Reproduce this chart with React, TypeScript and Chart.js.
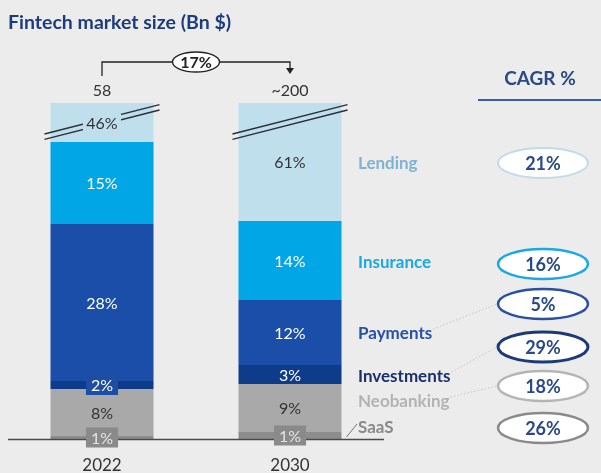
import React, { useEffect, useRef } from "react";
import { Chart, registerables } from "chart.js";

Chart.register(...registerables);

// ---- data ----
const years = ["2022", "2030"];
const marketSize = ["58", "~200"];
const overallCagr = "17%";
const segments = ["SaaS", "Neobanking", "Investments", "Payments", "Insurance", "Lending"];
// share of market (%) per segment, bottom to top
const share2022 = [1, 8, 2, 28, 15, 46];
const share2030 = [1, 9, 3, 12, 14, 61];
// drawn (visual, top segment truncated) height of each segment
const drawn2022 = [3, 47, 8, 157, 82, 39];
const drawn2030 = [7, 48, 19, 65, 79, 118];
// CAGR per segment 2022-2030
const segmentCagr = ["26%", "18%", "29%", "5%", "16%", "21%"];

const segColors = ["#8d8d8d", "#a9a9a9", "#0f3c8a", "#1b4ea8", "#00a6e6", "#c0dfec"];
const labelText = ["#e4e4e4", "#333333", "#ffffff", "#ffffff", "#ffffff", "#333333"];
const nameColors = ["#8a8a8a", "#b3b3b3", "#1b2f6b", "#2750a8", "#1aa9e0", "#7fb3d3"];
const ringColors = ["#8a8a8a", "#b5b5b5", "#1d3a78", "#2a4fa3", "#1aa9e0", "#c3dbe8"];
const ringWidths = [2.5, 2.5, 3, 2.5, 2.5, 2];

const FONT = "Lato, 'Noto Sans', sans-serif";

const overlay = {
  id: "overlay",
  beforeDraw(chart: any) {
    const { ctx, width, height } = chart;
    ctx.save();
    ctx.fillStyle = "#ececec";
    ctx.fillRect(0, 0, width, height);
    ctx.restore();
  },
  afterDatasetsDraw(chart: any) {
    const { ctx, chartArea } = chart;
    const yScale = chart.scales.y;
    ctx.save();

    // baseline
    ctx.strokeStyle = "#4a4a4a";
    ctx.lineWidth = 1.5;
    ctx.beginPath();
    ctx.moveTo(chartArea.left, chartArea.bottom + 0.5);
    ctx.lineTo(chartArea.right, chartArea.bottom + 0.5);
    ctx.stroke();

    const bars0 = chart.getDatasetMeta(0).data;
    const shares = [share2022, share2030];

    // segment labels
    segments.forEach((_, i) => {
      const meta = chart.getDatasetMeta(i);
      meta.data.forEach((el: any, j: number) => {
        const cy = (el.y + el.base) / 2;
        const txt = shares[j][i] + "%";
        ctx.font = `16px ${FONT}`;
        const tw = ctx.measureText(txt).width;
        const segH = Math.abs(el.base - el.y);
        if (segH < 14) {
          ctx.fillStyle = i === 2 ? "#1d4ea3" : "#8a8a8a";
          ctx.fillRect(el.x - tw / 2 - 5, cy - 10, tw + 10, 20);
        }
        ctx.fillStyle = labelText[i];
        ctx.textAlign = "center";
        ctx.textBaseline = "middle";
        ctx.fillText(txt, el.x, cy + 1);
      });
    });

    // break marks on the truncated top segment
    const lend = chart.getDatasetMeta(5).data;
    lend.forEach((el: any, j: number) => {
      const half = el.width / 2;
      const x0 = el.x - half - 6;
      const x1 = el.x + half + 6;
      const yMid = yScale.getPixelForValue(yScale.max - 19);
      const slope = -0.255;
      ctx.strokeStyle = "#2a2f38";
      ctx.lineWidth = 1.4;
      [-2.7, 2.7].forEach((off) => {
        ctx.beginPath();
        ctx.moveTo(x0, yMid + off + slope * (x0 - el.x));
        ctx.lineTo(x1, yMid + off + slope * (x1 - el.x));
        ctx.stroke();
      });
      const cy = (el.y + el.base) / 2;
      if (Math.abs(cy - yMid) < 12) {
        ctx.fillStyle = segColors[5];
        ctx.fillRect(el.x - 19, cy - 9, 38, 18);
        ctx.fillStyle = labelText[5];
        ctx.font = `16px ${FONT}`;
        ctx.textAlign = "center";
        ctx.textBaseline = "middle";
        ctx.fillText(shares[j][5] + "%", el.x, cy + 1);
      }
    });

    // year labels and market sizes
    bars0.forEach((el: any, j: number) => {
      ctx.fillStyle = "#333333";
      ctx.font = `17px ${FONT}`;
      ctx.textAlign = "center";
      ctx.textBaseline = "middle";
      ctx.fillText(years[j], el.x, chartArea.bottom + 27);
      ctx.font = `16px ${FONT}`;
      ctx.fillText(marketSize[j], el.x, chartArea.top - 12);
    });

    // overall CAGR bracket
    const xa = bars0[0].x, xb = bars0[1].x;
    const yTop = chartArea.top - 41;
    ctx.strokeStyle = "#222";
    ctx.lineWidth = 1.3;
    ctx.beginPath();
    ctx.moveTo(xa, chartArea.top - 27);
    ctx.lineTo(xa, yTop);
    ctx.lineTo(xb, yTop);
    ctx.lineTo(xb, chartArea.top - 33);
    ctx.stroke();
    ctx.fillStyle = "#222";
    ctx.beginPath();
    ctx.moveTo(xb - 4, chartArea.top - 35);
    ctx.lineTo(xb + 4, chartArea.top - 35);
    ctx.lineTo(xb, chartArea.top - 29);
    ctx.closePath();
    ctx.fill();
    const xm = (xa + xb) / 2;
    ctx.beginPath();
    ctx.ellipse(xm, yTop, 23.5, 10, 0, 0, Math.PI * 2);
    ctx.fillStyle = "#ffffff";
    ctx.fill();
    ctx.lineWidth = 1.4;
    ctx.strokeStyle = "#222";
    ctx.stroke();
    ctx.fillStyle = "#222";
    ctx.font = `bold 16px ${FONT}`;
    ctx.fillText(overallCagr, xm, yTop + 1);

    // title
    ctx.textAlign = "left";
    ctx.fillStyle = "#1e3c7c";
    ctx.font = `bold 19.5px ${FONT}`;
    ctx.fillText("Fintech market size (Bn $)", 8, 23);

    // CAGR header
    ctx.fillStyle = "#2a4a86";
    ctx.font = `bold 19px ${FONT}`;
    ctx.textAlign = "center";
    ctx.fillText("CAGR %", 540, 79);
    ctx.strokeStyle = "#3b5cab";
    ctx.lineWidth = 2;
    ctx.beginPath();
    ctx.moveTo(478, 100);
    ctx.lineTo(601, 100);
    ctx.stroke();

    // segment names + CAGR rings
    const nameY = [427, 401, 376, 333, 262, 163];
    const ringY = [428, 386, 347, 304, 264, 163];
    const ringX = 543;
    const nameX = chartArea.right - 26;
    segments.forEach((name, i) => {
      ctx.font = `bold 17px ${FONT}`;
      ctx.textAlign = "left";
      ctx.textBaseline = "middle";
      const tw = ctx.measureText(name).width;
      // dotted connector when name and ring are offset
      if (Math.abs(nameY[i] - ringY[i]) > 6) {
        ctx.save();
        ctx.setLineDash([1.5, 2]);
        ctx.strokeStyle = "#c8c8c8";
        ctx.lineWidth = 1;
        ctx.beginPath();
        ctx.moveTo(nameX + tw + 1, nameY[i] - 4);
        ctx.lineTo(ringX - 46, ringY[i]);
        ctx.stroke();
        ctx.restore();
      }
      ctx.fillStyle = nameColors[i];
      ctx.fillText(name, nameX, nameY[i] + 1);

      ctx.beginPath();
      ctx.ellipse(ringX, ringY[i], 45, 15, 0, 0, Math.PI * 2);
      ctx.fillStyle = "#ffffff";
      ctx.fill();
      ctx.lineWidth = ringWidths[i];
      ctx.strokeStyle = ringColors[i];
      ctx.stroke();
      ctx.fillStyle = "#2a4a86";
      ctx.font = `bold 18px ${FONT}`;
      ctx.textAlign = "center";
      ctx.fillText(segmentCagr[i], ringX, ringY[i] + 1);
    });

    // SaaS tick line
    const saas = chart.getDatasetMeta(0).data[1];
    ctx.strokeStyle = "#777";
    ctx.lineWidth = 1;
    ctx.beginPath();
    ctx.moveTo(saas.x + saas.width / 2 + 5, chartArea.bottom - 2);
    ctx.lineTo(nameX - 1, nameY[0] - 3);
    ctx.stroke();

    ctx.restore();
  },
};

export default function App() {
  const ref = useRef<HTMLCanvasElement | null>(null);
  useEffect(() => {
    if (!ref.current) return;
    const chart = new Chart(ref.current, {
      type: "bar",
      data: {
        labels: years,
        datasets: segments.map((s, i) => ({
          label: s,
          data: [drawn2022[i], drawn2030[i]],
          backgroundColor: segColors[i],
          borderWidth: 0,
          barPercentage: 0.548,
          categoryPercentage: 1,
          stack: "s",
        })),
      },
      options: {
        animation: false,
        responsive: false,
        layout: { padding: { left: 8, right: 217, top: 103, bottom: 34 } },
        plugins: { legend: { display: false }, tooltip: { enabled: false } },
        scales: {
          x: { stacked: true, display: false },
          y: { stacked: true, display: false, min: 0, max: 336 },
        },
      },
      plugins: [overlay],
    });
    return () => chart.destroy();
  }, []);
  return (
    <div style={{ position: "fixed", left: 0, top: 0, width: 601, height: 473 }}>
      <canvas ref={ref} width={601} height={473} style={{ display: "block" }} />
    </div>
  );
}
